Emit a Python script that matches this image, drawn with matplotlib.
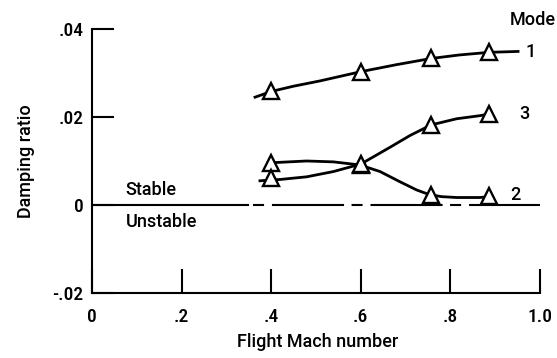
import matplotlib
matplotlib.use("Agg")
import matplotlib.pyplot as plt
from matplotlib.ticker import FixedLocator, FixedFormatter
from matplotlib import font_manager

# ---- data ----
mach_pts = [0.40, 0.60, 0.757, 0.887]
mode1_pts = [0.0258, 0.0303, 0.0333, 0.0347]
mode2_pts = [0.0096, 0.0092, 0.0023, 0.0020]
mode3_pts = [0.0061, 0.0094, 0.0182, 0.0207]

# curve traces
mode1_cx = [0.364, 0.40, 0.45, 0.509, 0.60, 0.68, 0.757, 0.82, 0.887, 0.951]
mode1_cy = [0.0245, 0.0258, 0.0270, 0.0282, 0.0303, 0.0319, 0.0333, 0.0341, 0.0347, 0.0349]
mode2_cx = [0.40, 0.42, 0.479, 0.539, 0.598, 0.643, 0.687, 0.725, 0.752, 0.78, 0.814, 0.866, 0.887]
mode2_cy = [0.0096, 0.0097, 0.0100, 0.0098, 0.0091, 0.0076, 0.0053, 0.0034, 0.0024, 0.0019, 0.0017, 0.0017, 0.0019]
mode3_cx = [0.375, 0.40, 0.42, 0.479, 0.539, 0.60, 0.665, 0.71, 0.757, 0.814, 0.866, 0.887]
mode3_cy = [0.0055, 0.0057, 0.0058, 0.0064, 0.0076, 0.0093, 0.0131, 0.0158, 0.0182, 0.0196, 0.0203, 0.0207]

xticks = [0, 0.2, 0.4, 0.6, 0.8, 1.0]
xtick_labels = ["0", ".2", ".4", ".6", ".8", "1.0"]
yticks = [-0.02, 0, 0.02, 0.04]
ytick_labels = ["-.02", "0", ".02", ".04"]

mode_labels = ["1", "2", "3"]
mode_label_y = [0.0348, 0.0023, 0.0207]
mode_label_x = [0.978, 0.944, 0.964]

names = {f.name for f in font_manager.fontManager.ttflist}
def pick(cands):
    return next((c for c in cands if c in names), 'DejaVu Sans')
fam_text = pick(['Roboto', 'Arimo', 'Liberation Sans'])
fam_tick = pick(['Roboto Condensed', 'Arimo', 'Liberation Sans'])
plt.rcParams['font.family'] = [fam_text, 'DejaVu Sans']
FS = 13
TFS = 14
WEIGHT = 'medium'

fig = plt.figure(figsize=(5.57, 3.58), dpi=100)
ax = fig.add_axes([0.165, 0.1816, 0.8045, 0.7374])
ax.set_xlim(0, 1.0)
ax.set_ylim(-0.02, 0.04)

for s in ['top', 'right']:
    ax.spines[s].set_visible(False)
for s in ['left', 'bottom']:
    ax.spines[s].set_linewidth(1.5)

lw = 2.0
ax.plot(mode1_cx, mode1_cy, color='black', lw=lw, zorder=2)
ax.plot(mode2_cx, mode2_cy, color='black', lw=lw, zorder=2)
ax.plot(mode3_cx, mode3_cy, color='black', lw=lw, zorder=2)
for ys in (mode1_pts, mode2_pts, mode3_pts):
    ax.plot(mach_pts, ys, linestyle='none', marker='^', markersize=11,
            markerfacecolor='white', markeredgecolor='black', markeredgewidth=1.7, zorder=3)

# zero line: solid, then long-short dashed
zlw = 1.5
ax.plot([0, 0.348], [0, 0], color='black', lw=zlw, zorder=1)
ax.plot([0.359, 1.0], [0, 0], color='black', lw=zlw,
        linestyle=(0, (5.3, 3.8, 34.6, 3.6)), zorder=1)

ax.xaxis.set_major_locator(FixedLocator(xticks))
ax.xaxis.set_major_formatter(FixedFormatter(xtick_labels))
ax.yaxis.set_major_locator(FixedLocator(yticks))
ax.yaxis.set_major_formatter(FixedFormatter(ytick_labels))
ax.tick_params(axis='x', direction='in', length=17, width=1.5, pad=11, labelsize=TFS)
ax.tick_params(axis='y', direction='in', length=16, width=1.5, pad=6, labelsize=TFS)
for t in ax.get_xticklabels() + ax.get_yticklabels():
    t.set_fontfamily([fam_tick, 'DejaVu Sans'])
    t.set_fontweight(WEIGHT)

ax.set_xlabel("Flight Mach number", fontsize=FS, fontweight=WEIGHT)
ax.set_ylabel("Damping ratio", fontsize=FS, fontweight=WEIGHT)
ax.xaxis.set_label_coords(0.503, -0.152)
ax.yaxis.set_label_coords(-0.127, 0.5)

ax.text(0.075, 0.0034, "Stable", fontsize=FS, fontweight=WEIGHT, ha='left', va='center')
ax.text(0.075, -0.0039, "Unstable", fontsize=FS, fontweight=WEIGHT, ha='left', va='center')

for lab, lx, ly in zip(mode_labels, mode_label_x, mode_label_y):
    ax.text(lx, ly, lab, fontsize=FS, fontweight=WEIGHT, ha='center', va='center', clip_on=False)
ax.text(0.984, 0.042, "Mode", fontsize=FS, fontweight=WEIGHT, ha='center', va='center', clip_on=False)

fig.savefig("out.png", dpi=100)
